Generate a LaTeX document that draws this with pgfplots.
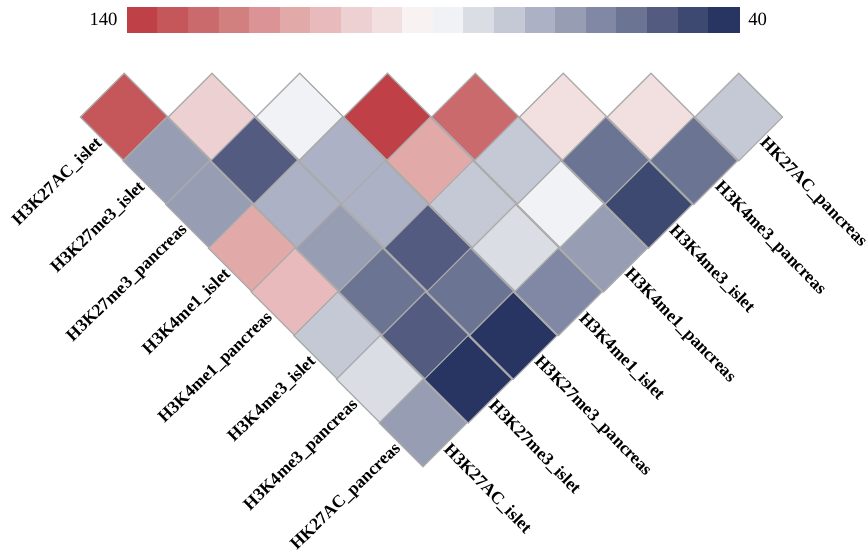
\documentclass[border=0pt]{standalone}
\usepackage{fontspec}
\setmainfont{Liberation Serif}
\usepackage{pgfplots}
\pgfplotsset{compat=1.18}
\definecolor{cellgray}{HTML}{ABABAB}
\tikzset{lab/.style={font=\bfseries\fontsize{13.1}{15}\selectfont, inner sep=2pt}}
\pgfplotsset{
  colormap={hm}{rgb255=(40,53,98) rgb255=(61,73,112) rgb255=(83,92,128) rgb255=(107,116,147) rgb255=(128,136,165) rgb255=(151,157,179) rgb255=(173,177,197) rgb255=(197,201,213) rgb255=(218,221,227) rgb255=(241,242,246) rgb255=(248,243,242) rgb255=(242,224,225) rgb255=(237,208,209) rgb255=(232,186,187) rgb255=(226,169,169) rgb255=(219,147,149) rgb255=(210,127,127) rgb255=(203,106,108) rgb255=(197,87,90) rgb255=(191,64,70)},
  colormap access=piecewise constant,
}
\pgfplotstableread{
i j v
1 8 132.5
2 7 102.5
3 6 87.5
4 5 137.5
5 4 127.5
6 3 97.5
7 2 97.5
8 1 77.5
2 8 67.5
3 7 52.5
4 6 72.5
5 5 112.5
6 4 77.5
7 3 57.5
8 2 57.5
3 8 67.5
4 7 72.5
5 6 72.5
6 5 77.5
7 4 87.5
8 3 47.5
4 8 112.5
5 7 67.5
6 6 52.5
7 5 82.5
8 4 67.5
5 8 107.5
6 7 57.5
7 6 57.5
8 5 62.5
6 8 77.5
7 7 52.5
8 6 42.5
7 8 82.5
8 7 42.5
8 8 67.5
}\cells
\pgfplotstableread{
x y v
0.5 0.5 137.5
1.5 0.5 132.5
2.5 0.5 127.5
3.5 0.5 122.5
4.5 0.5 117.5
5.5 0.5 112.5
6.5 0.5 107.5
7.5 0.5 102.5
8.5 0.5 97.5
9.5 0.5 92.5
10.5 0.5 87.5
11.5 0.5 82.5
12.5 0.5 77.5
13.5 0.5 72.5
14.5 0.5 67.5
15.5 0.5 62.5
16.5 0.5 57.5
17.5 0.5 52.5
18.5 0.5 47.5
19.5 0.5 42.5
}\cbar
\begin{document}
\begin{tikzpicture}
\begin{axis}[
  x={(32.03pt,-32.78pt)}, y={(-33.83pt,-32.78pt)},
  hide axis, clip=false,
  xmin=0.5, xmax=8.5, ymin=0.5, ymax=8.5,
  point meta min=40, point meta max=140,
]
\addplot[scatter, only marks, mark=square*, mark size=23.23pt,
  mark options={rotate=45, line width=0.9pt},
  scatter/use mapped color={draw=cellgray, fill=mapped color},
  point meta=explicit] table[x=i, y=j, meta=v] {\cells};
\node[lab, rotate=44.1, anchor=east] at (axis cs:1,8.5) {H3K27AC\_islet};
\node[lab, rotate=44.1, anchor=east] at (axis cs:2,8.5) {H3K27me3\_islet};
\node[lab, rotate=44.1, anchor=east] at (axis cs:3,8.5) {H3K27me3\_pancreas};
\node[lab, rotate=44.1, anchor=east] at (axis cs:4,8.5) {H3K4me1\_islet};
\node[lab, rotate=44.1, anchor=east] at (axis cs:5,8.5) {H3K4me1\_pancreas};
\node[lab, rotate=44.1, anchor=east] at (axis cs:6,8.5) {H3K4me3\_islet};
\node[lab, rotate=44.1, anchor=east] at (axis cs:7,8.5) {H3K4me3\_pancreas};
\node[lab, rotate=44.1, anchor=east] at (axis cs:8,8.5) {HK27AC\_pancreas};
\node[lab, rotate=-45.7, anchor=west] at (axis cs:8.5,1) {HK27AC\_pancreas};
\node[lab, rotate=-45.7, anchor=west] at (axis cs:8.5,2) {H3K4me3\_pancreas};
\node[lab, rotate=-45.7, anchor=west] at (axis cs:8.5,3) {H3K4me3\_islet};
\node[lab, rotate=-45.7, anchor=west] at (axis cs:8.5,4) {H3K4me1\_pancreas};
\node[lab, rotate=-45.7, anchor=west] at (axis cs:8.5,5) {H3K4me1\_islet};
\node[lab, rotate=-45.7, anchor=west] at (axis cs:8.5,6) {H3K27me3\_pancreas};
\node[lab, rotate=-45.7, anchor=west] at (axis cs:8.5,7) {H3K27me3\_islet};
\node[lab, rotate=-45.7, anchor=west] at (axis cs:8.5,8) {H3K27AC\_islet};
\coordinate (cbSW) at (axis cs:0.0328,7.022);
\coordinate (bbA) at (axis cs:-1.790,8.112);
\coordinate (bbB) at (axis cs:14.597,4.403);
\end{axis}
\begin{axis}[
  at={(cbSW)}, anchor=origin,
  x=22.95pt, y=18.75pt,
  xmin=0, xmax=20, ymin=0, ymax=1,
  hide axis, clip=false,
  point meta min=40, point meta max=140,
]
\addplot[scatter, only marks, mark=square*, mark size=9.375pt,
  mark options={xscale=1.224, line width=0.2pt},
  scatter/use mapped color={draw=mapped color, fill=mapped color},
  point meta=explicit] table[x=x, y=y, meta=v] {\cbar};
\node[anchor=east, font=\fontsize{14}{16}\selectfont, inner sep=0pt] at (axis cs:-0.3,0.5) {140};
\node[anchor=west, font=\fontsize{14}{16}\selectfont, inner sep=0pt] at (axis cs:20.3,0.5) {40};
\end{axis}
\pgfresetboundingbox
\path[use as bounding box] (bbA) rectangle (bbB);
\end{tikzpicture}
\end{document}
